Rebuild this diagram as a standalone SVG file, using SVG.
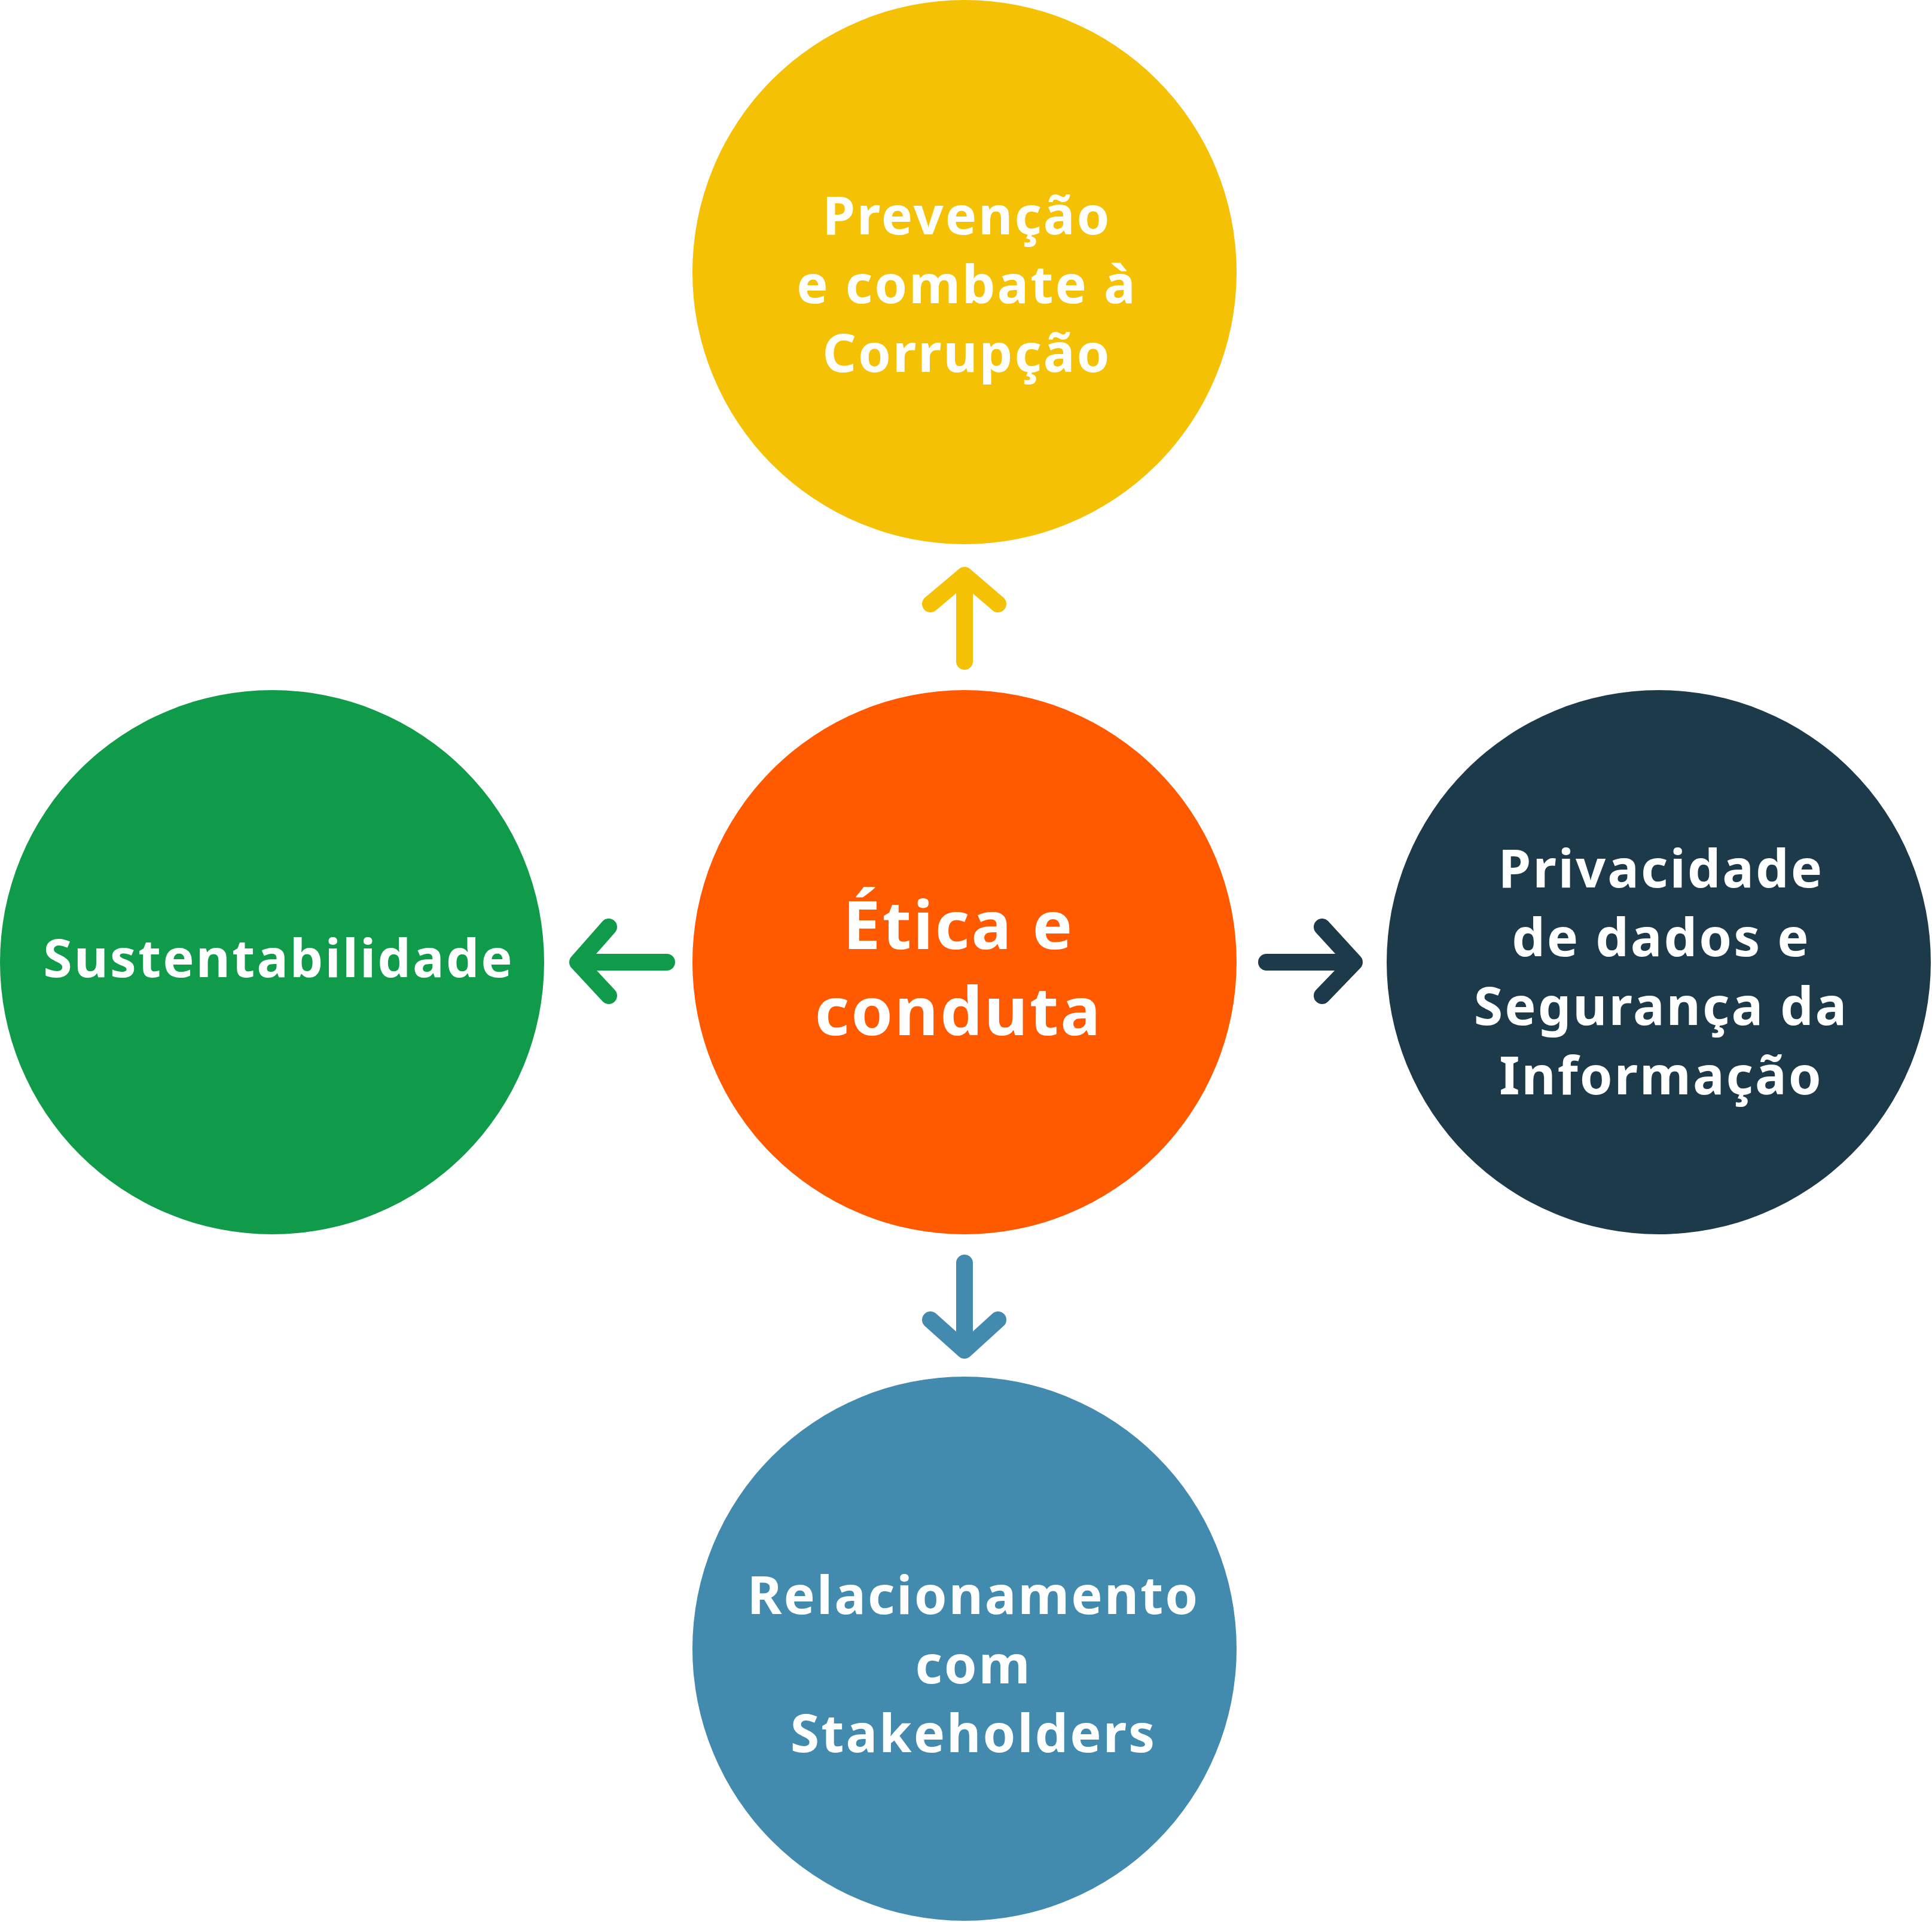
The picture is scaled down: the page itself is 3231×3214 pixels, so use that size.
<svg xmlns="http://www.w3.org/2000/svg" width="3231" height="3214" viewBox="0 0 3231 3214">
<style>
text{font-family:"Noto Sans","Open Sans",sans-serif;font-weight:bold;fill:#fff;text-anchor:middle;font-size:88px;letter-spacing:3px}
.big{font-size:112px}
.a{fill:none;stroke-width:28;stroke-linecap:round;stroke-linejoin:round}
</style>
<rect width="3231" height="3214" fill="#fff"/>
<g id="top"><circle cx="1613" cy="455" r="455" fill="#F5C105"/>
<text x="1617" y="392">Prevenção</text><text x="1617" y="507">e combate à</text><text x="1617" y="622">Corrupção</text></g>
<g id="center"><circle cx="1613" cy="1609" r="455" fill="#FF5A00"/>
<text class="big" x="1603" y="1587">Ética e</text><text class="big" x="1603" y="1731">conduta</text></g>
<g id="left"><circle cx="455" cy="1609" r="455" fill="#0F9B4A"/>
<text x="466" y="1634">Sustentabilidade</text></g>
<g id="right"><circle cx="2774" cy="1609" r="455" fill="#1D3A4A"/>
<text x="2778" y="1484">Privacidade</text><text x="2778" y="1599">de dados e</text><text x="2778" y="1714">Segurança da</text><text x="2778" y="1830">Informação</text></g>
<g id="bottom"><circle cx="1613" cy="2757" r="455" fill="#428AAE"/>
<text x="1628" y="2699">Relacionamento</text><text x="1628" y="2815">com</text><text x="1628" y="2930">Stakeholders</text></g>
<g id="connectors">
<path class="a" stroke="#F5C105" d="M1613 1106V965M1556 1010L1613 962L1669 1010"/>
<path class="a" stroke="#1D3A4A" d="M2118 1609H2262M2211 1550L2265 1609L2211 1665"/>
<path class="a" stroke="#0F9B4A" d="M1115 1609H969M1018 1550L966 1609L1018 1665"/>
<path class="a" stroke="#428AAE" d="M1613 2112V2255M1556 2207L1613 2258L1669 2207"/>
</g>
</svg>
